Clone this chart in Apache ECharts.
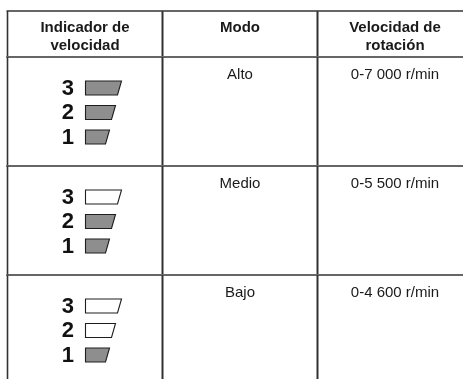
<!DOCTYPE html>
<html>
<head>
<meta charset="utf-8">
<script src="https://cdn.jsdelivr.net/npm/echarts@6/dist/echarts.min.js"></script>
<style>html,body{margin:0;padding:0;background:#fff}#c{width:463px;height:379px}</style>
</head>
<body>
<div id="c"></div>
<script>
// ---- data ----
const columns = ['indicador', 'modo', 'velocidad'];
const headers = ['Indicador de\nvelocidad', 'Modo', 'Velocidad de\nrotación'];
const modes = ['Alto', 'Medio', 'Bajo'];
const speeds = ['0-7 000 r/min', '0-5 500 r/min', '0-4 600 r/min'];
const activeLevels = [3, 2, 1];      // number of lit segments per mode
const levels = [3, 2, 1];            // indicator segments, top to bottom

// ---- style / layout constants ----
const FONT = '"Liberation Sans", Arial, sans-serif';
const HLINE = '#666666', VLINE = '#333333';
const ON_FILL = '#8e8e8e', OFF_FILL = '#ffffff', ICON_STROKE = '#1e1e1e';
const X_MAX = 455.5 / 155;   // visible part of the 3 columns (table runs past right edge)
const Y_MAX = 322 / 109;     // visible part of the 3 body rows (table runs past bottom edge)

const chart = echarts.init(document.getElementById('c'), null, {renderer: 'canvas'});

function cellBox(api) {
  const c = api.coord([api.value(0) + 0.5, api.value(1) + 0.5]);
  const s = api.size([1, 1]);
  return {x: c[0] - s[0] / 2, y: c[1] - s[1] / 2, w: s[0], h: s[1], cx: c[0]};
}

function borders(b) {
  return [
    {type: 'line', shape: {x1: b.x - 1, y1: b.y, x2: b.x + b.w + 1, y2: b.y}, style: {stroke: HLINE, lineWidth: 2}},
    {type: 'line', shape: {x1: b.x - 1, y1: b.y + b.h, x2: b.x + b.w + 1, y2: b.y + b.h}, style: {stroke: HLINE, lineWidth: 2}},
    {type: 'line', shape: {x1: b.x, y1: b.y, x2: b.x, y2: b.y + b.h}, style: {stroke: VLINE, lineWidth: 1.6}},
    {type: 'line', shape: {x1: b.x + b.w, y1: b.y, x2: b.x + b.w, y2: b.y + b.h}, style: {stroke: VLINE, lineWidth: 1.6}}
  ];
}

const headerData = columns.map((c, i) => [i, 0]);
const bodyData = [];
modes.forEach((m, r) => columns.forEach((c, ci) => bodyData.push([ci, r])));

chart.setOption({
  animation: false,
  backgroundColor: '#ffffff',
  grid: [
    {left: 7.5, top: 11, right: 0, height: 46},
    {left: 7.5, top: 57, right: 0, bottom: 0}
  ],
  xAxis: [
    {type: 'value', min: 0, max: X_MAX, gridIndex: 0, show: false},
    {type: 'value', min: 0, max: X_MAX, gridIndex: 1, show: false}
  ],
  yAxis: [
    {type: 'value', min: 0, max: 1, gridIndex: 0, inverse: true, show: false},
    {type: 'value', min: 0, max: Y_MAX, gridIndex: 1, inverse: true, show: false}
  ],
  series: [
    {
      type: 'custom', xAxisIndex: 0, yAxisIndex: 0, clip: false,
      data: headerData,
      renderItem: function (params, api) {
        const b = cellBox(api);
        const col = api.value(0);
        const children = borders(b);
        const twoLines = headers[col].indexOf('\n') >= 0;
        children.push({
          type: 'text',
          style: {
            text: headers[col], x: b.cx, y: twoLines ? b.y + b.h / 2 + 2.5 : b.y + 17,
            font: 'bold 15px ' + FONT, fill: '#1a1a1a',
            textAlign: 'center', textVerticalAlign: 'middle',
            align: 'center', verticalAlign: 'middle', lineHeight: 18
          }
        });
        return {type: 'group', children: children};
      }
    },
    {
      type: 'custom', xAxisIndex: 1, yAxisIndex: 1, clip: false,
      data: bodyData,
      renderItem: function (params, api) {
        const b = cellBox(api);
        const col = api.value(0), row = api.value(1);
        const children = borders(b);
        if (col === 0) {
          levels.forEach((lv, i) => {
            const cy = b.y + 31 + i * 24.5;
            children.push({
              type: 'text',
              style: {
                text: String(lv), x: b.cx - 11, y: cy + 0.5,
                font: 'bold 22px ' + FONT, fill: '#111111',
                textAlign: 'right', textVerticalAlign: 'middle',
                align: 'right', verticalAlign: 'middle'
              }
            });
            const left = b.x + 78;
            const topW = 18 + lv * 6;
            const top = cy - 7, bot = cy + 7;
            children.push({
              type: 'polygon',
              shape: {points: [[left, top], [left + topW, top], [left + topW - 4, bot], [left, bot]]},
              style: {
                fill: lv <= activeLevels[row] ? ON_FILL : OFF_FILL,
                stroke: ICON_STROKE, lineWidth: 1.1
              }
            });
          });
        } else {
          const txt = col === 1 ? modes[row] : speeds[row];
          children.push({
            type: 'text',
            style: {
              text: txt, x: b.cx, y: b.y + 18,
              font: '15px ' + FONT, fill: '#1a1a1a',
              textAlign: 'center', textVerticalAlign: 'middle',
              align: 'center', verticalAlign: 'middle'
            }
          });
        }
        return {type: 'group', children: children};
      }
    }
  ]
});
</script>
</body>
</html>
